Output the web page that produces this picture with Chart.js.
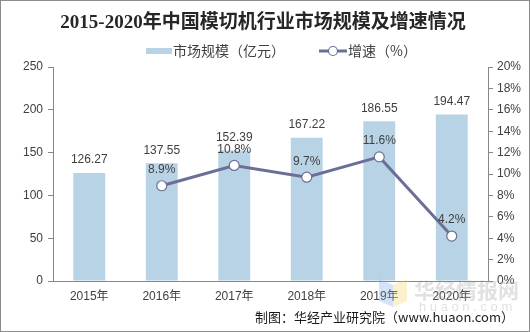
<!DOCTYPE html>
<html>
<head>
<meta charset="utf-8">
<title>模切机行业市场规模</title>
<script src="https://cdn.jsdelivr.net/npm/chart.js"></script>
<style>
  html, body { margin: 0; padding: 0; background: #fff; }
  #box { position: relative; width: 530px; height: 332px; box-sizing: border-box; border: 1px solid #8c8c8c; }
  #box canvas { position: absolute; left: 0; top: 0; }
</style>
</head>
<body>
<div id="box"><canvas id="scaleChart" width="530" height="332"></canvas></div>
<script>
// 年份、市场规模（亿元）、增速（%）
var years = ['2015年', '2016年', '2017年', '2018年', '2019年', '2020年'];
var marketSize = [126.27, 137.55, 152.39, 167.22, 186.55, 194.47];
var growth = [null, 8.9, 10.8, 9.7, 11.6, 4.2];

var titleText = '2015-2020年中国模切机行业市场规模及增速情况';
var sizeLabel = '市场规模（亿元）';
var growthLabel = '增速（%）';
var sourceText = '制图：华经产业研究院（www.huaon.com）';

var barColor = '#b8d3e6';
var lineColor = '#6b6f98';
var axisColor = '#888888';
var textColor = '#404040';
var latin = "'Liberation Sans', 'Noto Sans CJK SC', sans-serif";

// title, legend, labels and footer drawn on the canvas
var decorPlugin = {
    id: 'decor',
    afterDatasetsDraw: function (chart) {
        var ctx = chart.ctx;
        ctx.save();

        // values above bars
        ctx.fillStyle = textColor;
        ctx.font = '12px ' + latin;
        ctx.textAlign = 'center';
        ctx.textBaseline = 'middle';
        chart.getDatasetMeta(0).data.forEach(function (bar, i) {
            ctx.fillText(marketSize[i].toFixed(2), bar.x, bar.y - 13);
        });
        // values above points
        chart.getDatasetMeta(1).data.forEach(function (pt, i) {
            if (growth[i] == null) return;
            ctx.fillText(growth[i].toFixed(1) + '%', pt.x, pt.y - 16);
        });

        // title
        ctx.fillStyle = '#262626';
        ctx.font = "bold 19px 'Liberation Serif', 'Noto Sans CJK SC', serif";
        ctx.fillText(titleText, 262, 22);

        // legend
        ctx.font = "14px 'Noto Sans CJK SC', sans-serif";
        ctx.textAlign = 'left';
        ctx.fillStyle = barColor;
        ctx.fillRect(145, 47, 26, 6);
        ctx.fillStyle = textColor;
        ctx.fillText(sizeLabel, 172, 50);

        ctx.strokeStyle = lineColor;
        ctx.lineWidth = 3;
        ctx.beginPath();
        ctx.moveTo(318, 50);
        ctx.lineTo(346, 50);
        ctx.stroke();
        ctx.beginPath();
        ctx.arc(332, 50, 4.5, 0, Math.PI * 2);
        ctx.fillStyle = '#fff';
        ctx.fill();
        ctx.lineWidth = 1.2;
        ctx.stroke();
        ctx.fillStyle = textColor;
        ctx.fillText(growthLabel, 347, 50);

        // watermark
        ctx.globalAlpha = 0.3;
        ctx.fillStyle = '#6fa3e8';
        ctx.beginPath();
        ctx.moveTo(378, 278); ctx.lineTo(392, 284); ctx.lineTo(392, 306); ctx.lineTo(378, 300);
        ctx.fill();
        ctx.fillStyle = '#f6d25a';
        ctx.beginPath();
        ctx.moveTo(406, 278); ctx.lineTo(392, 284); ctx.lineTo(392, 306); ctx.lineTo(406, 300);
        ctx.fill();
        ctx.fillStyle = '#9a9a9a';
        ctx.font = "bold 21px 'Noto Sans CJK SC', sans-serif";
        ctx.fillText('华经情报网', 413, 289);
        ctx.font = '13px ' + latin;
        ctx.fillText('h u a o n . c o m', 418, 306);
        ctx.globalAlpha = 1;

        // source
        ctx.fillStyle = '#1a1a1a';
        ctx.font = "13px 'Noto Sans CJK SC', sans-serif";
        ctx.textAlign = 'right';
        ctx.fillText(sourceText, 513, 316);

        ctx.restore();
    }
};

var ctx = document.getElementById('scaleChart').getContext('2d');
var scaleChart = new Chart(ctx, {
    type: 'bar',
    data: {
        labels: years,
        datasets: [{
            type: 'bar',
            label: sizeLabel,
            data: marketSize,
            backgroundColor: barColor,
            barPercentage: 0.44,
            categoryPercentage: 1,
            yAxisID: 'y',
            order: 2
        }, {
            type: 'line',
            label: growthLabel,
            data: growth,
            borderColor: lineColor,
            borderWidth: 3,
            pointRadius: 5,
            pointBorderWidth: 1.2,
            pointBackgroundColor: '#fff',
            pointBorderColor: lineColor,
            yAxisID: 'y1',
            order: 1
        }]
    },
    options: {
        responsive: false,
        animation: false,
        layout: { padding: { top: 66, bottom: 24, left: 0, right: 0 } },
        plugins: {
            legend: { display: false },
            title: { display: false },
            tooltip: { enabled: false }
        },
        scales: {
            x: {
                grid: { display: false, drawTicks: false },
                border: { color: axisColor },
                ticks: { color: textColor, font: { size: 12, family: latin }, padding: 8 },
                afterFit: function (s) { s.height = 28; }
            },
            y: {
                position: 'left',
                min: 0, max: 250,
                ticks: { stepSize: 50, color: textColor, font: { size: 12, family: latin }, padding: 5 },
                grid: { display: true, drawOnChartArea: false, tickLength: 5, color: axisColor },
                border: { color: axisColor },
                afterFit: function (s) { s.width = 52; }
            },
            y1: {
                position: 'right',
                min: 0, max: 20,
                ticks: {
                    stepSize: 2, color: textColor, font: { size: 12, family: latin }, padding: 4,
                    callback: function (v) { return v + '%'; }
                },
                grid: { display: true, drawOnChartArea: false, tickLength: 5, color: axisColor },
                border: { color: axisColor },
                afterFit: function (s) { s.width = 43; }
            }
        }
    },
    plugins: [decorPlugin]
});
</script>
</body>
</html>
